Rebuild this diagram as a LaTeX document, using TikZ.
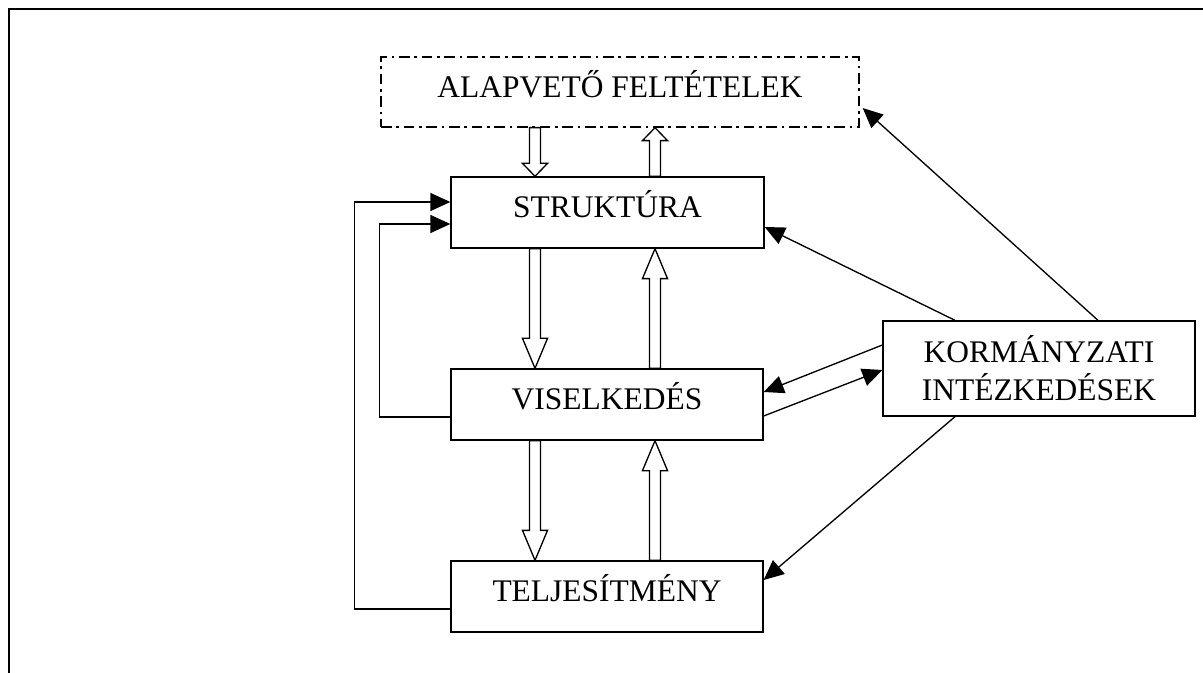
\documentclass[tikz,border=0pt]{standalone}
\usepackage{fontspec}
\setmainfont{Liberation Serif}
\usetikzlibrary{arrows.meta,calc}

% hollow block arrow along a vertical line: #1 start, #2 tip, #3 head length
\newcommand\blockarrow[3]{%
  \draw[line width=1pt, fill=white, line join=miter]
    let \p1=#1, \p2=#2, \n1={sign(\y2-\y1)} in
    ({\x1-4.1pt},\y1) -- ({\x1-4.1pt},{\y2-\n1*#3}) -- ({\x1-9.4pt},{\y2-\n1*#3})
    -- (\x1,\y2) -- ({\x1+9.4pt},{\y2-\n1*#3}) -- ({\x1+4.1pt},{\y2-\n1*#3})
    -- ({\x1+4.1pt},\y1) -- cycle;}

\tikzset{
  box/.style={draw, line width=1pt, minimum width=#1*0.75pt, minimum height=53.25pt,
    inner sep=0pt, font=\fontsize{23.6}{28.5}\selectfont,
    text height=16pt, text depth=7.9pt},
  box/.default=312,
  frame/.style={draw, line width=1.6pt},
  link/.style={line width=1pt, -{Triangle[length=15pt,width=13.5pt]}},
}

\begin{document}
\begin{tikzpicture}[x=0.75pt, y=-0.75pt]
\useasboundingbox (0,0) rectangle (1203,673);

% page frame
\draw[frame] (9,673) -- (9,9) -- (1203,9);

% boxes
\node[box=478, minimum height=52.5pt,
      dash pattern=on 8pt off 3.5pt on 2pt off 3.5pt] (alap) at (620,92) {ALAPVETŐ FELTÉTELEK};
\node[box=313] (stk) at (607.5,212.5) {STRUKTÚRA};
\node[box] (vis) at (607,404.5) {VISELKEDÉS};
\node[box] (tel) at (607,596.5) {TELJESÍTMÉNY};
\node[draw, line width=1pt, minimum width=234pt, minimum height=71.25pt, inner sep=0pt,
      align=center, font=\fontsize{23.6}{28.5}\selectfont] (korm) at (1039,368.5)
      {KORMÁNYZATI\\INTÉZKEDÉSEK};

% block arrows between the stacked boxes
\blockarrow{($(alap.south)+(-85,0)$)}{($(stk.north)+(-72.5,0)$)}{9.75pt}
\blockarrow{($(stk.north)+(47.5,0)$)}{($(alap.south)+(35,0)$)}{9.75pt}
\blockarrow{($(stk.south)+(-72.5,0)$)}{($(vis.north)+(-72,0)$)}{22.5pt}
\blockarrow{($(vis.north)+(48,0)$)}{($(stk.south)+(47.5,0)$)}{22.5pt}
\blockarrow{($(vis.south)+(-72,0)$)}{($(tel.north)+(-72,0)$)}{22.5pt}
\blockarrow{($(tel.north)+(48,0)$)}{($(vis.south)+(48,0)$)}{22.5pt}

% feedback loops on the left
\draw[link] ($(tel.west)+(0,12.5)$) -- ++(-96,0) |- ($(stk.west)+(0,-10.5)$);
\draw[link] ($(vis.west)+(0,12.5)$) -- ++(-71,0) |- ($(stk.west)+(0,11.5)$);

% government measures
\draw[link] ($(korm.north)+(59,0)$) -- ($(alap.east)+(3,16)$);
\draw[link] ($(korm.north)+(-84,0)$) -- ($(stk.east)+(0,14.5)$);
\draw[link] ($(korm.west)+(0,-23.5)$) -- ($(vis.east)+(0,-12.5)$);
\draw[link] ($(vis.east)+(0,11.5)$) -- ($(korm.west)+(0,1.5)$);
\draw[link] ($(korm.south)+(-84,0)$) -- ($(tel.east)+(0,-16.5)$);
\end{tikzpicture}
\end{document}
